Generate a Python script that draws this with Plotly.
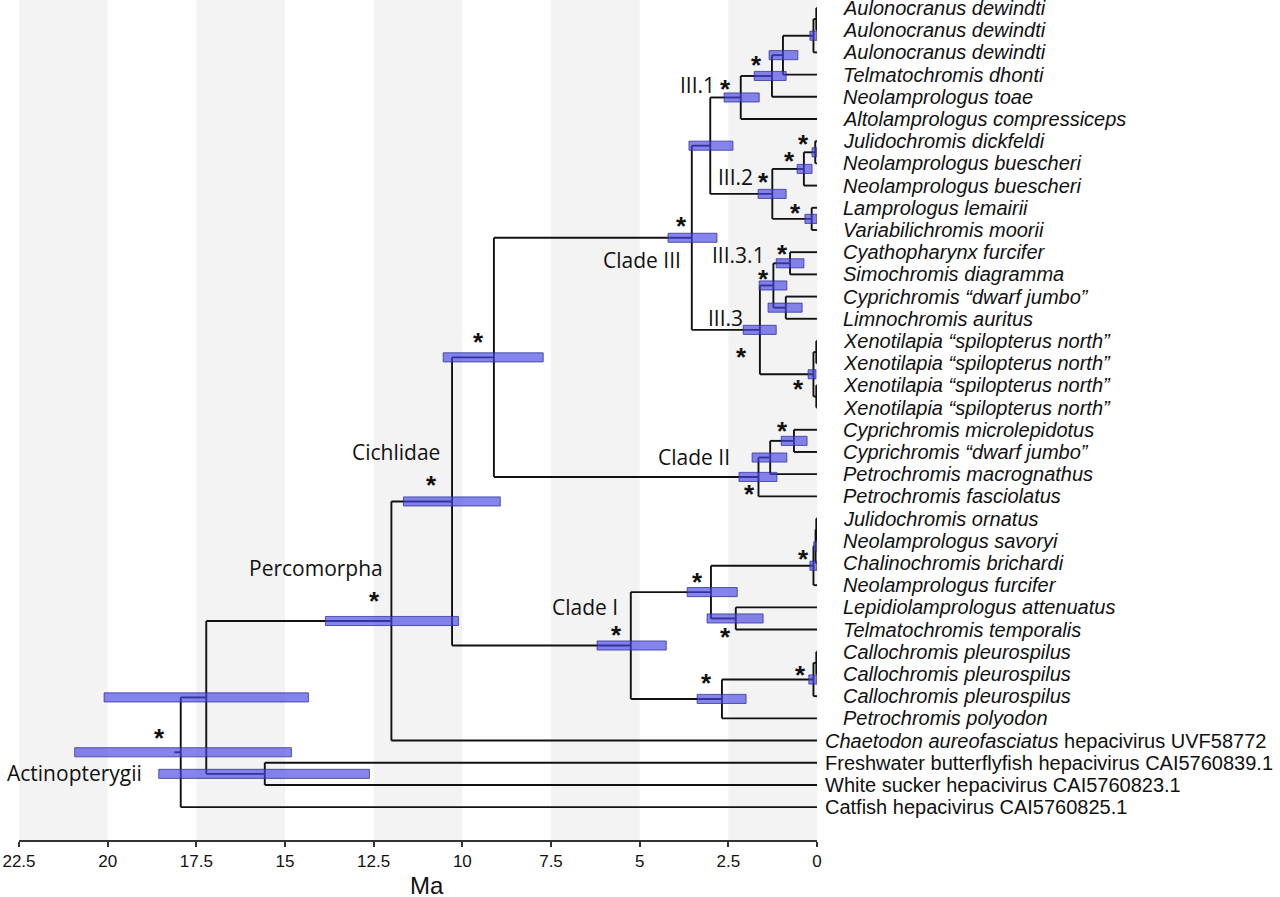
import plotly.graph_objects as go

# ---------------- data ----------------
tip_names = [
    "Aulonocranus dewindti", "Aulonocranus dewindti", "Aulonocranus dewindti",
    "Telmatochromis dhonti", "Neolamprologus toae", "Altolamprologus compressiceps",
    "Julidochromis dickfeldi", "Neolamprologus buescheri", "Neolamprologus buescheri",
    "Lamprologus lemairii", "Variabilichromis moorii", "Cyathopharynx furcifer",
    "Simochromis diagramma", "Cyprichromis \u201cdwarf jumbo\u201d", "Limnochromis auritus",
    "Xenotilapia \u201cspilopterus north\u201d", "Xenotilapia \u201cspilopterus north\u201d",
    "Xenotilapia \u201cspilopterus north\u201d", "Xenotilapia \u201cspilopterus north\u201d",
    "Cyprichromis microlepidotus", "Cyprichromis \u201cdwarf jumbo\u201d",
    "Petrochromis macrognathus", "Petrochromis fasciolatus",
    "Julidochromis ornatus", "Neolamprologus savoryi", "Chalinochromis brichardi",
    "Neolamprologus furcifer", "Lepidiolamprologus attenuatus", "Telmatochromis temporalis",
    "Callochromis pleurospilus", "Callochromis pleurospilus", "Callochromis pleurospilus",
    "Petrochromis polyodon",
    "<i>Chaetodon aureofasciatus</i> hepacivirus UVF58772",
    "Freshwater butterflyfish hepacivirus CAI5760839.1",
    "White sucker hepacivirus CAI5760823.1",
    "Catfish hepacivirus CAI5760825.1",
]
tip_group = [
    "lightblue", "lightblue", "lightblue", "pink", "pink", "pink",
    "pink", "pink", "pink", "pink", "pink", "lightblue",
    "green", "orange", "darkblue", "lightblue", "lightblue", "lightblue", "lightblue",
    "orange", "orange", "green", "green",
    "pink", "pink", "pink", "pink", "pink", "pink",
    "lightblue", "lightblue", "lightblue", "green",
    None, None, None, None,
]

# internal nodes (children listed before parents)
node_names = [
    "aulo01", "aulo", "telm", "toae", "III.1",
    "jd", "bu", "lv", "III.2", "III.1+2",
    "III.3.1", "cl", "III.3a", "x1", "x2", "xeno", "III.3", "III",
    "cy", "cym", "II", "II+III",
    "l1", "l2", "l3", "lt", "lamp", "c1", "calo", "cp", "I",
    "Cichlidae", "Percomorpha", "fw", "pf", "root",
]
node_children = [
    ["t0", "t1"], ["aulo01", "t2"], ["aulo", "t3"], ["telm", "t4"], ["toae", "t5"],
    ["t6", "t7"], ["jd", "t8"], ["t9", "t10"], ["bu", "lv"], ["III.1", "III.2"],
    ["t11", "t12"], ["t13", "t14"], ["III.3.1", "cl"], ["t15", "t16"], ["t17", "t18"],
    ["x1", "x2"], ["III.3a", "xeno"], ["III.1+2", "III.3"],
    ["t19", "t20"], ["cy", "t21"], ["cym", "t22"], ["III", "II"],
    ["t23", "t24"], ["l1", "t25"], ["l2", "t26"], ["t27", "t28"], ["l3", "lt"],
    ["t29", "t30"], ["c1", "t31"], ["calo", "t32"], ["lamp", "cp"],
    ["II+III", "I"], ["Cichlidae", "t33"], ["t34", "t35"], ["Percomorpha", "fw"], ["pf", "t36"],
]
node_age = [
    0.02, 0.10, 0.96, 1.27, 2.15,
    0.05, 0.37, 0.15, 1.26, 3.01,
    0.76, 0.88, 1.23, 0.02, 0.02, 0.10, 1.61, 3.53,
    0.65, 1.32, 1.65, 9.11,
    0.02, 0.04, 0.10, 2.29, 2.99, 0.02, 0.10, 2.68, 5.25,
    10.29, 12.00, 15.57, 17.22, 17.94,
]
node_hpd_old = [
    None, 0.20, 1.35, 1.77, 2.62,
    0.14, 0.56, 0.34, 1.66, 3.61,
    1.15, 1.38, 1.63, None, None, 0.25, 2.08, 4.20,
    1.01, 1.83, 2.20, 10.54,
    None, 0.09, 0.20, 3.10, 3.66, None, 0.23, 3.38, 6.20,
    11.66, 13.86, 18.56, 20.10, 20.93,
]
node_hpd_young = [
    None, 0.00, 0.54, 0.87, 1.63,
    0.00, 0.14, 0.00, 0.87, 2.37,
    0.37, 0.42, 0.85, None, None, 0.03, 1.15, 2.82,
    0.28, 0.85, 1.13, 7.72,
    None, 0.00, 0.00, 1.52, 2.25, None, 0.00, 2.00, 4.25,
    8.93, 10.11, 12.62, 14.34, 14.82,
]
node_support = [
    False, False, False, True, True,
    True, True, True, True, False,
    True, False, True, False, False, True, True, True,
    True, False, True, True,
    False, False, True, True, True, False, True, True, True,
    True, True, False, False, True,
]
clade_labels = {
    "III.1": "III.1", "III.2": "III.2", "III.3.1": "III.3.1", "III.3": "III.3",
    "III": "Clade III", "II": "Clade II", "I": "Clade I",
    "Cichlidae": "Cichlidae", "Percomorpha": "Percomorpha", "root": "Actinopterygii",
}
root_stub_age = 18.12
x_ticks = [22.5, 20, 17.5, 15, 12.5, 10, 7.5, 5, 2.5, 0]
x_tick_text = ["22.5", "20", "17.5", "15", "12.5", "10", "7.5", "5", "2.5", "0"]

# ---------------- styles ----------------
group_colors = {
    "lightblue": "#98BADD", "pink": "#C985C1", "green": "#7CC56C",
    "orange": "#F05225", "darkblue": "#4A58A6",
}
# pixel offsets (image coords: +x right, +y down) from node position
star_offsets = {
    "toae": (-15, -17), "III.1": (-15, -14), "jd": (-12, -14), "bu": (-14, -14),
    "lv": (-16, -12), "III.2": (-9, -18), "III.3.1": (-8, -15), "III.3a": (-10, -12),
    "xeno": (-15, 9), "III.3": (-18, 21), "III": (-10, -18), "cy": (-11, -16),
    "II": (-9, 11), "II+III": (-15, -21), "l3": (-10, -13), "lt": (-10, 13),
    "lamp": (-13, -16), "calo": (-13, -11), "cp": (-15, -22), "I": (-14, -17),
    "Cichlidae": (-21, -22), "Percomorpha": (-17, -26), "root": (-21, -20),
}
label_offsets = {  # (right edge dx, center dy)
    "III.1": (-24, -12.5), "III.2": (-17, -16.5), "III.3.1": (-23, -8),
    "III.3": (-15, -12), "III": (-9, 22.5), "II": (-26, -20), "I": (-11, -38.5),
    "Cichlidae": (-10, -49), "Percomorpha": (-6, -53), "root": (-37, 21),
}
PX_PER_MA = 798 / 22.5

# ---------------- geometry ----------------
pos_y = {f"t{i}": float(i) for i in range(len(tip_names))}
pos_x = {f"t{i}": 0.0 for i in range(len(tip_names))}
for name, ch, age in zip(node_names, node_children, node_age):
    pos_y[name] = (pos_y[ch[0]] + pos_y[ch[-1]]) / 2
    pos_x[name] = age

lx, ly = [], []
for name, ch in zip(node_names, node_children):
    a = pos_x[name]
    lx += [a, a, None]
    ly += [pos_y[ch[0]], pos_y[ch[-1]], None]
    for c in ch:
        lx += [a, pos_x[c], None]
        ly += [pos_y[c], pos_y[c], None]
lx += [root_stub_age, pos_x["root"], None]
ly += [pos_y["root"], pos_y["root"], None]

fig = go.Figure()
fig.add_trace(go.Scatter(x=lx, y=ly, mode="lines", line=dict(color="#111", width=1.9),
                         hoverinfo="skip", showlegend=False))

h = 0.205
for name, o, yg in zip(node_names, node_hpd_old, node_hpd_young):
    if o is None:
        continue
    y = pos_y[name]
    fig.add_trace(go.Scatter(
        x=[o, yg, yg, o, o], y=[y - h, y - h, y + h, y + h, y - h],
        mode="lines", fill="toself", fillcolor="rgba(70,70,228,0.66)",
        line=dict(color="rgba(45,45,150,0.75)", width=1),
        hoverinfo="skip", showlegend=False))

# tip circles
cx, cy_, cc = [], [], []
for i, g in enumerate(tip_group):
    if g is None:
        continue
    cx.append(-12.3 / PX_PER_MA)
    cy_.append(float(i))
    cc.append(group_colors[g])
fig.add_trace(go.Scatter(x=cx, y=cy_, mode="markers", cliponaxis=False,
                         marker=dict(size=14, color=cc, line=dict(color="#333", width=1)),
                         hoverinfo="skip", showlegend=False))

annotations = []
for i, (nm, g) in enumerate(zip(tip_names, tip_group)):
    text = f"<i>{nm}</i>" if g is not None else nm
    annotations.append(dict(
        x=0, y=i, xref="x", yref="y", text=text, showarrow=False,
        xanchor="left", yanchor="middle", xshift=24 if g is not None else 6,
        font=dict(family="Liberation Sans, Arial", size=20, color="#111")))

for name, sup in zip(node_names, node_support):
    if not sup:
        continue
    dx, dy = star_offsets[name]
    annotations.append(dict(
        x=pos_x[name], y=pos_y[name], xref="x", yref="y", text="<b>*</b>", showarrow=False,
        xanchor="center", yanchor="middle", xshift=dx, yshift=-(dy + 6),
        font=dict(family="Liberation Sans, Arial", size=26, color="#111")))

for name, lab in clade_labels.items():
    dx, dy = label_offsets[name]
    annotations.append(dict(
        x=pos_x[name], y=pos_y[name], xref="x", yref="y", text=lab, showarrow=False,
        xanchor="right", yanchor="middle", xshift=dx, yshift=-dy,
        font=dict(family="Open Sans", size=21, color="#111")))

annotations.append(dict(
    x=11.0, y=-0.054, xref="x", yref="paper", text="Ma", showarrow=False,
    xanchor="center", yanchor="middle",
    font=dict(family="Liberation Sans, Arial", size=24, color="#111")))

shapes = []
for x0 in [22.5, 17.5, 12.5, 7.5, 2.5]:
    shapes.append(dict(type="rect", xref="x", yref="paper", x0=x0, x1=x0 - 2.5, y0=0, y1=1,
                       fillcolor="#F3F3F3", line=dict(width=0), layer="below"))

fig.update_layout(
    width=1280, height=897,
    margin=dict(l=19, r=463, t=0, b=57),
    paper_bgcolor="white", plot_bgcolor="white",
    shapes=shapes, annotations=annotations,
    xaxis=dict(range=[22.5, 0], tickvals=x_ticks, ticktext=x_tick_text,
               ticks="outside", ticklen=5, tickwidth=1.5, tickcolor="#333",
               showline=True, linecolor="#333", linewidth=1.5,
               showgrid=False, zeroline=False,
               tickfont=dict(family="Liberation Sans, Arial", size=17, color="#111")),
    yaxis=dict(range=[37.48, -0.36], visible=False, showgrid=False, zeroline=False),
)

fig.write_html("out.html", config={"displayModeBar": False},
               post_script="document.body.style.margin='0';document.body.style.overflow='hidden';")
